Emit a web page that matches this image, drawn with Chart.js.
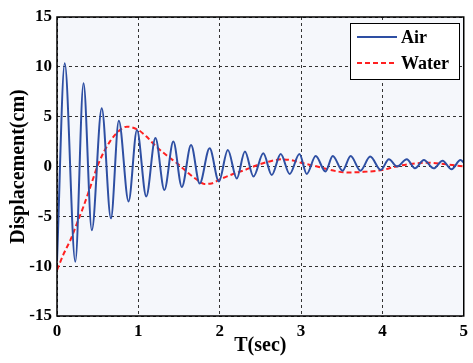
<!DOCTYPE html>
<html>
<head>
<meta charset="utf-8">
<script src="https://cdn.jsdelivr.net/npm/chart.js@4.4.1/dist/chart.umd.min.js"></script>
<style>
html,body{margin:0;padding:0;background:#fff;}
#wrap{width:473px;height:363px;position:relative;}
</style>
</head>
<body>
<div id="wrap"><canvas id="c" width="473" height="363"></canvas></div>
<script>
// Air series: time (s) and displacement (cm)
const airT = [0, 0.095, 0.225, 0.326, 0.428, 0.55, 0.663, 0.76, 0.88, 0.983, 1.097, 1.21, 1.32, 1.43, 1.535, 1.648, 1.754, 1.876, 1.99, 2.10, 2.21, 2.31, 2.415, 2.536, 2.64, 2.75, 2.86, 2.98, 3.07, 3.18, 3.30, 3.39, 3.51, 3.61, 3.73, 3.85, 3.98, 4.08, 4.18, 4.30, 4.40, 4.51, 4.63, 4.74, 4.85, 4.96, 5.0];
const airV = [-9.5, 10.35, -9.55, 8.35, -6.4, 5.85, -5.2, 4.6, -3.5, 3.66, -3.0, 2.85, -2.35, 2.5, -2.05, 2.15, -1.7, 1.82, -1.5, 1.65, -1.2, 1.5, -1.0, 1.32, -0.85, 1.25, -0.75, 1.25, -0.75, 1.05, -0.5, 1.05, -0.42, 1.05, -0.42, 1.0, -0.35, 0.72, 0.0, 0.72, -0.18, 0.65, -0.18, 0.58, -0.28, 0.65, 0.4];
// Water series
const waterT = [0, 0.08, 0.164, 0.25, 0.326, 0.42, 0.51, 0.65, 0.79, 0.86, 1.0, 1.1, 1.22, 1.35, 1.48, 1.62, 1.75, 1.81, 1.9, 2.0, 2.15, 2.31, 2.45, 2.6, 2.76, 2.9, 3.0, 3.15, 3.29, 3.45, 3.57, 3.75, 4.0, 4.17, 4.34, 4.54, 4.75, 5.0];
const waterV = [-10.4, -8.8, -7.4, -5.6, -4.0, -1.8, 0.3, 2.5, 3.76, 4.0, 3.66, 3.0, 2.0, 1.1, 0.3, -0.7, -1.5, -1.75, -1.7, -1.3, -0.8, -0.35, 0.1, 0.48, 0.72, 0.6, 0.38, 0.1, -0.2, -0.5, -0.6, -0.55, -0.35, 0, 0.25, 0.38, 0.25, 0];
const xTicks = [0, 1, 2, 3, 4, 5];
const yTicks = [-15, -10, -5, 0, 5, 10, 15];
const seriesNames = ['Air', 'Water'];

const FONT = '"Liberation Serif", "Times New Roman", serif';
const toXY = (t, v) => t.map((x, i) => ({x: x, y: v[i]}));

const bgPlugin = {
  id: 'bg',
  beforeDraw(chart) {
    const {ctx, chartArea: a} = chart;
    ctx.save();
    ctx.fillStyle = '#f5f7fb';
    ctx.fillRect(a.left, a.top, a.right - a.left, a.bottom - a.top);
    ctx.restore();
  },
  afterDraw(chart) {
    const {ctx, chartArea: a} = chart;
    ctx.save();
    ctx.strokeStyle = '#000';
    ctx.lineWidth = 1.5;
    ctx.setLineDash([]);
    ctx.strokeRect(a.left, a.top, a.right - a.left, a.bottom - a.top);
    // legend box
    const bx = 350.5, by = 23.5, bw = 109, bh = 56;
    ctx.fillStyle = '#ffffff';
    ctx.fillRect(bx, by, bw, bh);
    ctx.lineWidth = 1;
    ctx.strokeRect(bx, by, bw, bh);
    const ds = chart.data.datasets;
    const rows = [37, 63];
    ds.forEach((d, i) => {
      ctx.strokeStyle = d.borderColor;
      ctx.lineWidth = 2;
      ctx.setLineDash(d.borderDash || []);
      ctx.beginPath();
      ctx.moveTo(357, rows[i]);
      ctx.lineTo(397, rows[i]);
      ctx.stroke();
      ctx.setLineDash([]);
      ctx.fillStyle = '#000';
      ctx.font = 'bold 18px ' + FONT;
      ctx.textBaseline = 'middle';
      ctx.textAlign = 'left';
      ctx.fillText(d.label, 401, rows[i] + 1);
    });
    ctx.restore();
  }
};

new Chart(document.getElementById('c'), {
  type: 'line',
  data: {
    datasets: [
      {
        label: seriesNames[0],
        data: toXY(airT, airV),
        borderColor: '#2e4fa3',
        borderWidth: 2,
        pointRadius: 0,
        cubicInterpolationMode: 'monotone',
        fill: false
      },
      {
        label: seriesNames[1],
        data: toXY(waterT, waterV),
        borderColor: '#ff2020',
        borderWidth: 2,
        borderDash: [5, 3],
        pointRadius: 0,
        cubicInterpolationMode: 'monotone',
        fill: false
      }
    ]
  },
  options: {
    responsive: false,
    animation: false,
    devicePixelRatio: 1,
    layout: {padding: {top: 17, right: 6, left: 0, bottom: 0}},
    plugins: {legend: {display: false}, tooltip: {enabled: false}},
    scales: {
      x: {
        type: 'linear',
        min: 0, max: 5,
        afterBuildTicks(s) { s.ticks = xTicks.map(v => ({value: v})); },
        afterFit(s) { s.height = 47; },
        grid: {color: '#333', lineWidth: 1, tickLength: 0, drawTicks: false},
        border: {display: false, dash: [3, 3]},
        ticks: {color: '#000', padding: 5, font: {family: FONT, size: 17, weight: 'bold'}, maxRotation: 0},
        title: {display: true, text: 'T(sec)', color: '#000', font: {family: FONT, size: 20, weight: 'bold'}, padding: {top: 0, bottom: 5}}
      },
      y: {
        type: 'linear',
        min: -15, max: 15,
        afterBuildTicks(s) { s.ticks = yTicks.map(v => ({value: v})); },
        afterFit(s) { s.width = 57; },
        grid: {color: '#333', lineWidth: 1, drawTicks: false},
        border: {display: false, dash: [3, 3]},
        ticks: {color: '#000', padding: 5, font: {family: FONT, size: 17, weight: 'bold'}},
        title: {display: true, text: 'Displacement(cm)', color: '#000', font: {family: FONT, size: 20, weight: 'bold'}, padding: {top: 7, bottom: 0}}
      }
    }
  },
  plugins: [bgPlugin]
});
</script>
</body>
</html>
